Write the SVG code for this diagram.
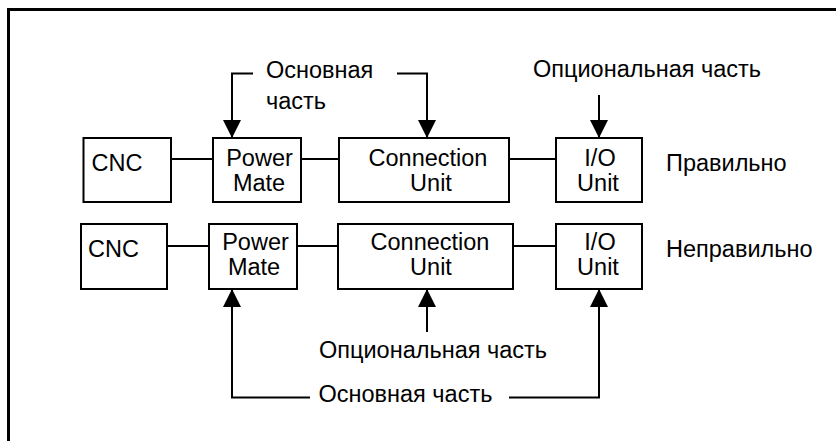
<svg xmlns="http://www.w3.org/2000/svg" width="836" height="441" viewBox="0 0 836 441">
<style>
.box{fill:#fff;stroke:#000;stroke-width:2}
.ln{fill:none;stroke:#000;stroke-width:2}
.t{font-family:"Liberation Sans",Arial,sans-serif;font-size:23.5px;fill:#000}
.m{text-anchor:middle}
</style>
<defs>
<marker id="ah" markerUnits="userSpaceOnUse" markerWidth="18" markerHeight="18" refX="18" refY="9" orient="auto" viewBox="0 0 18 18">
<path d="M0,0 L18,9 L0,18 z" fill="#000"/>
</marker>
</defs>
<rect x="0" y="0" width="836" height="441" fill="#fff"/>
<rect x="8.5" y="9.5" width="840" height="450" fill="none" stroke="#000" stroke-width="3"/>

<g id="connectors">
<line class="ln" x1="171" y1="159" x2="213" y2="159"/>
<line class="ln" x1="301" y1="159" x2="342" y2="159"/>
<line class="ln" x1="509" y1="159" x2="556" y2="159"/>
<line class="ln" x1="167" y1="246" x2="209" y2="246"/>
<line class="ln" x1="297" y1="246" x2="338" y2="246"/>
<line class="ln" x1="513" y1="246" x2="556" y2="246"/>
<path class="ln" d="M253,73.5 H232 V138" marker-end="url(#ah)"/>
<path class="ln" d="M397,73.5 H427 V138" marker-end="url(#ah)"/>
<path class="ln" d="M599,95 V138" marker-end="url(#ah)"/>
<path class="ln" d="M310,397.5 H232 V289" marker-end="url(#ah)"/>
<path class="ln" d="M427,332 V289" marker-end="url(#ah)"/>
<path class="ln" d="M509,397.5 H599 V289" marker-end="url(#ah)"/>
</g>

<g id="cnc1"><rect class="box" x="83.5" y="138" width="87.5" height="64"/><text class="t" x="91.5" y="171">CNC</text></g>
<g id="pm1"><rect class="box" x="213" y="138" width="88" height="64"/><text class="t m" x="259.5" y="166">Power</text><text class="t m" x="259" y="191">Mate</text></g>
<g id="cu1"><rect class="box" x="339" y="138" width="170" height="64"/><text class="t m" x="428" y="166">Connection</text><text class="t m" x="431" y="191">Unit</text></g>
<g id="io1"><rect class="box" x="556" y="138" width="86" height="64"/><text class="t m" x="600" y="166">I/O</text><text class="t m" x="598" y="191">Unit</text></g>
<g id="lbl1"><text class="t" x="666" y="171">Правильно</text></g>

<g id="cnc2"><rect class="box" x="81" y="224" width="86" height="65"/><text class="t" x="88" y="257">CNC</text></g>
<g id="pm2"><rect class="box" x="209" y="224" width="88" height="65"/><text class="t m" x="255.5" y="250">Power</text><text class="t m" x="254" y="275">Mate</text></g>
<g id="cu2"><rect class="box" x="338" y="224" width="175" height="65"/><text class="t m" x="430" y="250">Connection</text><text class="t m" x="431" y="275">Unit</text></g>
<g id="io2"><rect class="box" x="556" y="224" width="86" height="65"/><text class="t m" x="600" y="250">I/O</text><text class="t m" x="598" y="275">Unit</text></g>
<g id="lbl2"><text class="t" x="666" y="257">Неправильно</text></g>

<g id="top-labels">
<text class="t" x="266" y="77.5">Основная</text>
<text class="t" x="266" y="108.5">часть</text>
<text class="t" x="533" y="77">Опциональная часть</text>
</g>
<g id="bottom-labels">
<text class="t" x="319" y="357.5">Опциональная часть</text>
<text class="t" x="318.5" y="402">Основная часть</text>
</g>
</svg>
